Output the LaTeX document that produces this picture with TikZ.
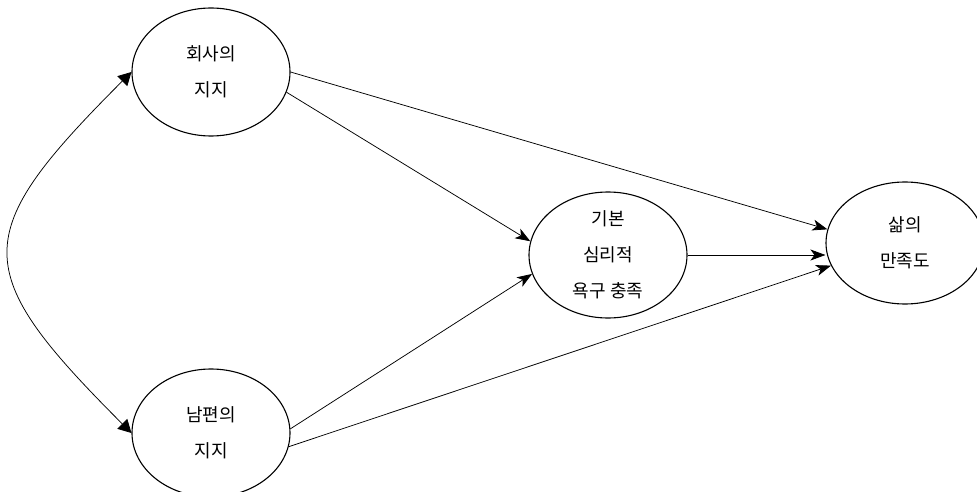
\documentclass[tikz,border=0pt]{standalone}
\usepackage{fontspec}
\newfontfamily\kr{Noto Sans CJK KR}
\usetikzlibrary{arrows.meta,shapes.geometric}
\begin{document}
\begin{tikzpicture}[x=1pt,y=-1pt,
  latent/.style={ellipse,draw,line width=1.1pt,minimum width=158pt,minimum height=128pt,
    inner sep=0pt,align=center,font=\kr\fontsize{18}{36}\selectfont},
  path/.style={line width=0.75pt,-{Stealth[length=15pt,width=11pt,inset=4pt]}},
  cov/.style={line width=0.75pt,{Triangle[length=13pt,width=14pt]}-{Triangle[length=13pt,width=14pt]}}]
\useasboundingbox (0,0) rectangle (977,492);
\node[latent] (comp) at (211,72) {회사의\\지지};
\node[latent] (husb) at (211,433) {남편의\\지지};
\node[latent,minimum height=126pt] (need) at (608,255) {기본\\심리적\\욕구 충족};
\node[latent,minimum height=122pt] (life) at (905,243) {삶의\\만족도};
% covariance between the two sources of support
\draw[cov] (comp.west) .. controls +(-163,163) and +(-163,-163) .. (husb.west);
% structural paths
\draw[path] (comp.east) -- (life.170);
\draw[path] (comp.-15) -- (need.170);
\draw[path] (husb.3) -- (need.194);
\draw[path] (husb.-10) -- (life.197);
\draw[path] (need.east) -- (need.east -| life.west);
\end{tikzpicture}
\end{document}
